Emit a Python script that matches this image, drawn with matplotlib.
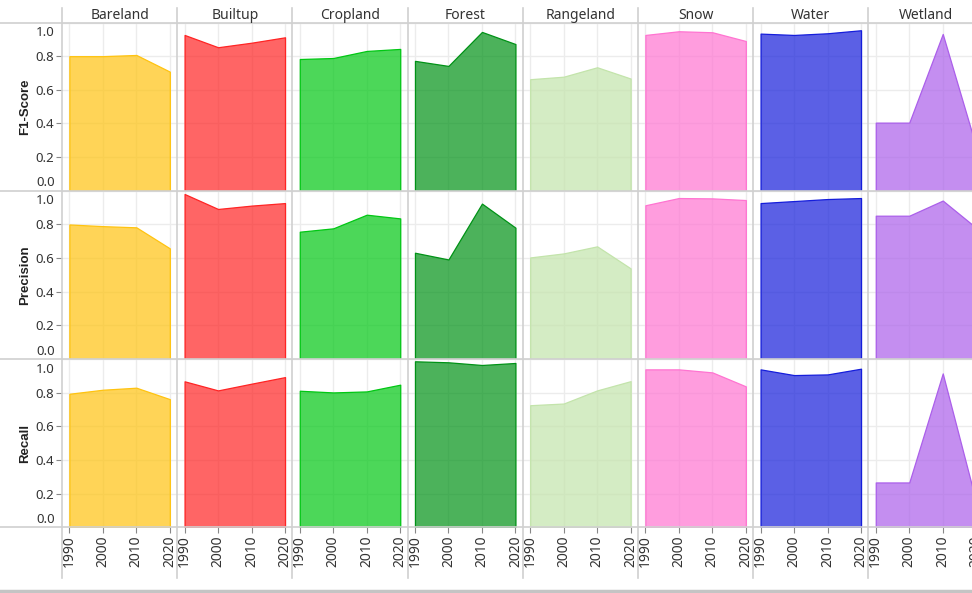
import numpy as np
import matplotlib
matplotlib.use('Agg')
import matplotlib.pyplot as plt
from matplotlib.lines import Line2D
from matplotlib.colors import to_rgba

plt.rcParams['font.family'] = ['Noto Sans', 'DejaVu Sans']

# Accuracy metrics per land cover class, one value per year
years = [1990, 2000, 2010, 2020]
classes = ['Bareland', 'Builtup', 'Cropland', 'Forest', 'Rangeland', 'Snow', 'Water', 'Wetland']
metrics = ['F1-Score', 'Precision', 'Recall']

f1_score = [
    [0.800, 0.800, 0.807, 0.708],   # Bareland
    [0.926, 0.853, 0.880, 0.912],   # Builtup
    [0.783, 0.789, 0.831, 0.843],   # Cropland
    [0.772, 0.742, 0.944, 0.872],   # Forest
    [0.663, 0.678, 0.734, 0.667],   # Rangeland
    [0.926, 0.948, 0.942, 0.890],   # Snow
    [0.934, 0.926, 0.936, 0.954],   # Water
    [0.405, 0.405, 0.932, 0.260],   # Wetland
]
precision = [
    [0.800, 0.790, 0.783, 0.658],
    [0.981, 0.892, 0.912, 0.927],
    [0.757, 0.777, 0.858, 0.836],
    [0.632, 0.592, 0.924, 0.781],
    [0.604, 0.628, 0.670, 0.539],
    [0.914, 0.957, 0.955, 0.945],
    [0.927, 0.939, 0.951, 0.957],
    [0.852, 0.852, 0.942, 0.780],
]
recall = [
    [0.794, 0.818, 0.830, 0.762],
    [0.868, 0.814, 0.854, 0.893],
    [0.812, 0.802, 0.808, 0.848],
    [0.987, 0.981, 0.965, 0.977],
    [0.726, 0.736, 0.814, 0.869],
    [0.939, 0.939, 0.921, 0.838],
    [0.939, 0.905, 0.909, 0.943],
    [0.267, 0.267, 0.915, 0.150],
]

class_colors = ['#FFC310', '#FF2424', '#00C713', '#009216',
                '#C3E4AB', '#FF74D1', '#151DDB', '#AB5FEA']

# figure size in pixels and panel grid geometry
W, H = 972, 593
col_x0, col_w = 62, 115.2
row_y0, row_h = 22.5, 168.3
sep_color = '#d0d0d0'
text_color = '#333333'


def fx(x):
    return x / W


def fy(y):
    return 1 - y / H


fig = plt.figure(figsize=(W / 100, H / 100), dpi=100)

for r, (metric, data) in enumerate(zip(metrics, [f1_score, precision, recall])):
    top = row_y0 + r * row_h
    for c, cls in enumerate(classes):
        left = col_x0 + c * col_w
        ax = fig.add_axes([fx(left), fy(top + row_h), col_w / W, row_h / H])
        base = class_colors[c]
        ax.fill_between(years, data[c], 0, facecolor=to_rgba(base, 0.7),
                        edgecolor=base, linewidth=0.9, zorder=2)

        ax.set_xlim(1987.8, 2022.2)
        ax.set_ylim(0, 1.0)
        ax.set_xticks(years)
        ax.set_yticks(np.arange(0, 1.01, 0.2))
        ax.grid(True, color='#ececec', linewidth=1)
        ax.set_axisbelow(True)
        for s in ax.spines.values():
            s.set_visible(False)

        # y axis labels only on the first column
        if c == 0:
            ax.set_yticklabels(['', '0.2', '0.4', '0.6', '0.8', ''])
            ax.tick_params(axis='y', length=4, width=0.8, color='#888888', pad=2,
                           labelsize=9.5, labelcolor=text_color)
            ticks = ax.yaxis.get_major_ticks()
            ticks[0].tick1line.set_visible(False)
            ticks[-1].tick1line.set_visible(False)
            # end labels sit inside the panel
            ax.annotate('1.0', xy=(0, 1), xycoords='axes fraction', xytext=(-7, -10),
                        textcoords='offset pixels', ha='right', va='center',
                        fontsize=9.5, color=text_color)
            ax.annotate('0.0', xy=(0, 0), xycoords='axes fraction', xytext=(-7, 8),
                        textcoords='offset pixels', ha='right', va='center',
                        fontsize=9.5, color=text_color)
        else:
            ax.tick_params(axis='y', length=0, labelleft=False)

        # year labels only under the last row
        if r == len(metrics) - 1:
            ax.set_xticklabels([str(y) for y in years], rotation=90)
            ax.tick_params(axis='x', length=4, width=0.8, color='#888888', pad=1.5,
                           labelsize=10, labelcolor=text_color)
        else:
            ax.tick_params(axis='x', length=0, labelbottom=False)

    fig.text(fx(25), fy(top + row_h / 2), metric, rotation=90, ha='center', va='center',
             fontsize=9.5, fontweight='bold', color='#222222',
             family=['Liberation Sans', 'DejaVu Sans'])

# column headers
for c, cls in enumerate(classes):
    fig.text(fx(col_x0 + (c + 0.5) * col_w), fy(15.5), cls, ha='center', va='center',
             fontsize=10, color=text_color)

# separator lines between panels
for c in range(len(classes) + 1):
    x = fx(col_x0 + c * col_w)
    fig.add_artist(Line2D([x, x], [fy(8), fy(578)], transform=fig.transFigure,
                          color=sep_color, linewidth=1.2))
for r in range(len(metrics) + 1):
    y = fy(row_y0 + r * row_h)
    fig.add_artist(Line2D([0, 1], [y, y], transform=fig.transFigure,
                          color=sep_color, linewidth=1.2))

# thin grey band along the bottom edge
fig.add_artist(Line2D([0, 1], [fy(591), fy(591)], transform=fig.transFigure,
                      color='#c4c4c4', linewidth=2.5))

fig.savefig('out.png', dpi=100)
